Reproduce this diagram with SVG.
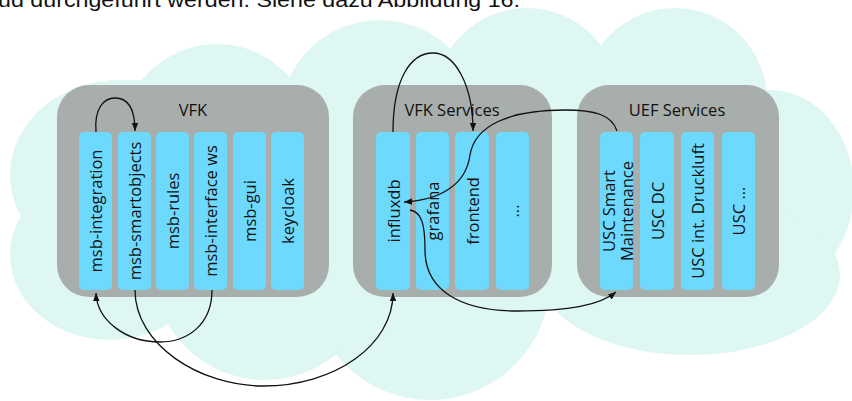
<svg xmlns="http://www.w3.org/2000/svg" width="852" height="401" viewBox="0 0 852 401">
<defs>
<style>
.cloud{fill:#dff7f3}
.panel{fill:#a8aeac}
.col{fill:#6dd9fd}
.t{font-family:"Open Sans","Noto Sans",sans-serif;font-size:16.5px;fill:#111;text-anchor:middle}
.v{dominant-baseline:central}
.e{fill:none;stroke:#111;stroke-width:1.3}
</style>
<marker id="ah" markerWidth="8" markerHeight="8" viewBox="0 0 10 10" refX="10" refY="5" orient="auto" markerUnits="userSpaceOnUse">
<path d="M0,1 L10,5 L0,9 Z" fill="#111"/>
</marker>
</defs>
<rect width="852" height="401" fill="#fff"/>
<text x="-2" y="7" font-family="Liberation Sans, sans-serif" font-size="20" fill="#111" textLength="522" lengthAdjust="spacingAndGlyphs">ud durchgeführt werden. Siehe dazu Abbildung 16.</text>
<g id="cloud" class="cloud">
<circle cx="217" cy="140" r="96"/>
<circle cx="380" cy="120" r="100"/>
<circle cx="527" cy="100" r="92"/>
<circle cx="675" cy="100" r="92"/>
<ellipse cx="770" cy="190" rx="84" ry="100"/>
<ellipse cx="690" cy="275" rx="150" ry="80"/>
<circle cx="430" cy="280" r="120"/>
<circle cx="265" cy="268" r="112"/>
<ellipse cx="110" cy="255" rx="100" ry="85"/>
<ellipse cx="120" cy="175" rx="110" ry="95"/>
<rect x="110" y="80" width="650" height="230"/>
</g>
<g id="vfk">
<rect class="panel" x="57" y="85" width="272" height="212" rx="32"/>
<text class="t" x="193" y="116">VFK</text>
</g>
<g id="msb-integration"><rect class="col" x="79" y="132" width="33" height="158" rx="5"/><text class="t v" transform="translate(95.5,211) rotate(-90)">msb-integration</text></g>
<g id="msb-smartobjects"><rect class="col" x="118" y="132" width="33" height="158" rx="5"/><text class="t v" transform="translate(134.5,211) rotate(-90)">msb-smartobjects</text></g>
<g id="msb-rules"><rect class="col" x="156" y="132" width="33" height="158" rx="5"/><text class="t v" transform="translate(172.5,211) rotate(-90)">msb-rules</text></g>
<g id="msb-interface-ws"><rect class="col" x="194" y="132" width="33" height="158" rx="5"/><text class="t v" transform="translate(210.5,211) rotate(-90)">msb-interface ws</text></g>
<g id="msb-gui"><rect class="col" x="233" y="132" width="33" height="158" rx="5"/><text class="t v" transform="translate(249.5,211) rotate(-90)">msb-gui</text></g>
<g id="keycloak"><rect class="col" x="271" y="132" width="33" height="158" rx="5"/><text class="t v" transform="translate(287.5,211) rotate(-90)">keycloak</text></g>
<g id="vfk-services">
<rect class="panel" x="353" y="85" width="199" height="212" rx="32"/>
<text class="t" x="452" y="116">VFK Services</text>
</g>
<g id="influxdb"><rect class="col" x="376" y="132" width="34" height="158" rx="5"/><text class="t v" transform="translate(393,211) rotate(-90)">influxdb</text></g>
<g id="grafana"><rect class="col" x="416" y="132" width="33" height="158" rx="5"/><text class="t v" transform="translate(432.5,211) rotate(-90)">grafana</text></g>
<g id="frontend"><rect class="col" x="455" y="132" width="34" height="158" rx="5"/><text class="t v" transform="translate(472,211) rotate(-90)">frontend</text></g>
<g id="vfk-more"><rect class="col" x="496" y="132" width="33" height="158" rx="5"/><text class="t v" transform="translate(512.5,211) rotate(-90)">...</text></g>
<g id="uef-services">
<rect class="panel" x="577" y="85" width="202" height="212" rx="32"/>
<text class="t" x="677" y="116">UEF Services</text>
</g>
<g id="usc-smart-maintenance"><rect class="col" x="600" y="132" width="33" height="158" rx="5"/><text class="t v" transform="translate(608,211) rotate(-90)">USC Smart</text><text class="t v" transform="translate(626,211) rotate(-90)">Maintenance</text></g>
<g id="usc-dc"><rect class="col" x="640" y="132" width="34" height="158" rx="5"/><text class="t v" transform="translate(657,211) rotate(-90)">USC DC</text></g>
<g id="usc-druckluft"><rect class="col" x="681" y="132" width="33" height="158" rx="5"/><text class="t v" transform="translate(697.5,211) rotate(-90)">USC int. Druckluft</text></g>
<g id="usc-more"><rect class="col" x="722" y="132" width="33" height="158" rx="5"/><text class="t v" transform="translate(738.5,211) rotate(-90)">USC ...</text></g>
<g id="connectors" class="e">
<path d="M96,132 C94,108 104,98 115,98 C128,98 135,108 135,131" marker-end="url(#ah)"/>
<path d="M212,290 C212,325 187,342 160,342 C125,342 97,320 96,293" marker-end="url(#ah)"/>
<path d="M135,290 C135,345 200,386 263,386 C335,386 393,345 393,293" marker-end="url(#ah)"/>
<path d="M393,132 C393,80 410,53 433,53 C455,53 473,85 473,131" marker-end="url(#ah)"/>
<path d="M617,131 C612,115 595,110 565,110 C510,110 475,125 470,155 C466,185 440,200 404,202" marker-end="url(#ah)"/>
<path d="M410,210 C422,212 425,225 425,250 C425,290 460,311 517,311 C570,311 600,305 616,292" marker-end="url(#ah)"/>
</g>
</svg>
